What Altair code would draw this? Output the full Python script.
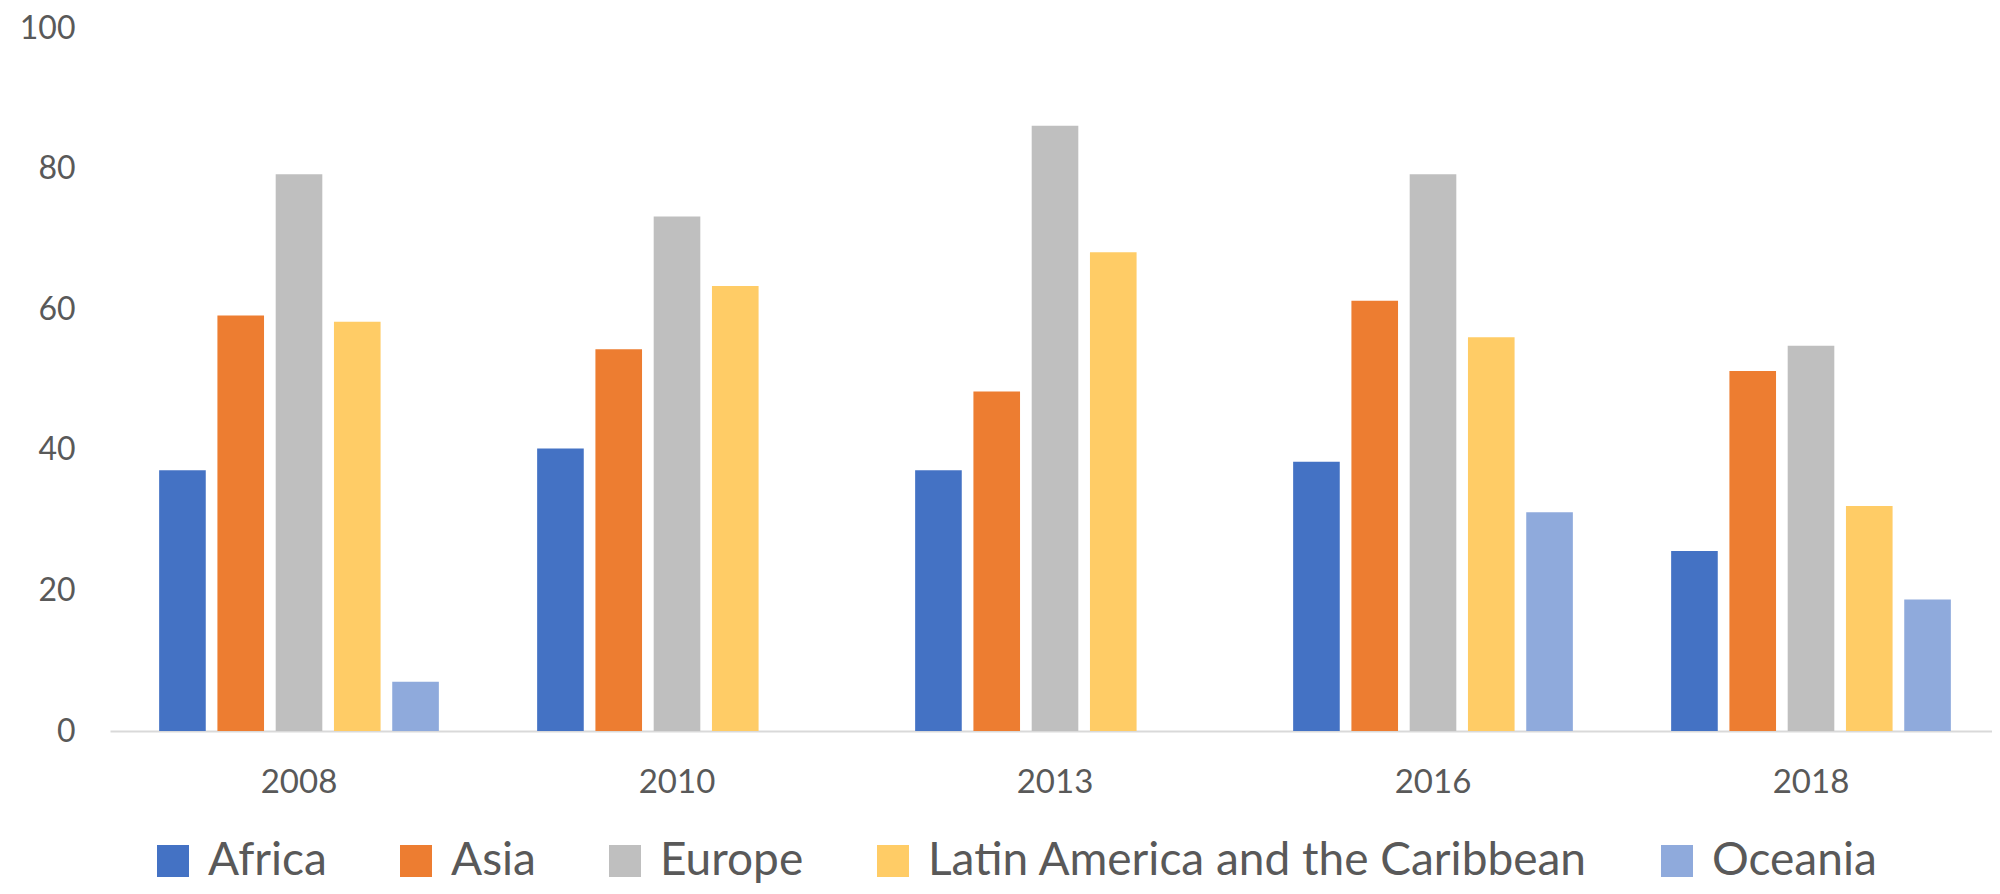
import altair as alt
import pandas as pd

years = ["2008", "2010", "2013", "2016", "2018"]
regions = ["Africa", "Asia", "Europe", "Latin America and the Caribbean", "Oceania"]
colors = ["#4472C4", "#ED7D31", "#BFBFBF", "#FFCC66", "#8FAADC"]

africa = [37.1, 40.2, 37.1, 38.3, 25.6]
asia = [59.1, 54.3, 48.3, 61.2, 51.2]
europe = [79.2, 73.2, 86.1, 79.2, 54.8]
latam = [58.2, 63.3, 68.1, 56.0, 32.0]
oceania = [7.0, None, None, 31.1, 18.7]

series = [africa, asia, europe, latam, oceania]
rows = []
for reg, vals in zip(regions, series):
    for yr, v in zip(years, vals):
        if v is not None:
            rows.append({"year": yr, "region": reg, "value": v})
df = pd.DataFrame(rows)

FONT = "Lato"
TXT = "#595959"

chart = alt.Chart(df).mark_bar().encode(
    x=alt.X("year:N", sort=years,
            scale=alt.Scale(domain=years, paddingInner=0.26, paddingOuter=0.13, range=[0, 1890]),
            axis=alt.Axis(title=None, labelAngle=0, ticks=False, domainColor="#D9D9D9",
                          domainWidth=2, labelPadding=35, labelFontSize=33,
                          labelColor=TXT, labelFont=FONT)),
    xOffset=alt.XOffset("region:N", sort=regions,
                        scale=alt.Scale(domain=regions, paddingInner=0.2, paddingOuter=0)),
    y=alt.Y("value:Q", scale=alt.Scale(domain=[0, 100], nice=False),
            axis=alt.Axis(title=None, values=[0, 20, 40, 60, 80, 100], grid=False,
                          domain=False, ticks=False, labelPadding=35, labelFontSize=32,
                          labelColor=TXT, labelFont=FONT)),
    color=alt.Color("region:N", sort=regions,
                    scale=alt.Scale(domain=regions, range=colors),
                    legend=alt.Legend(title=None, orient="none", direction="horizontal",
                                      legendX=40, legendY=810, padding=0,
                                      symbolType="square", symbolSize=1024,
                                      symbolStrokeWidth=0, labelOffset=12,
                                      columnPadding=66, labelFontSize=46,
                                      labelColor=TXT, labelFont=FONT, labelLimit=2000)),
).properties(
    width=1882, height=703,
    autosize=alt.AutoSizeParams(type="none"),
    padding={"left": 102, "top": 20, "right": 0, "bottom": 155},
).configure(background="white").configure_view(stroke=None)

chart.save("out.html", embed_options={"renderer": "svg", "actions": False})
